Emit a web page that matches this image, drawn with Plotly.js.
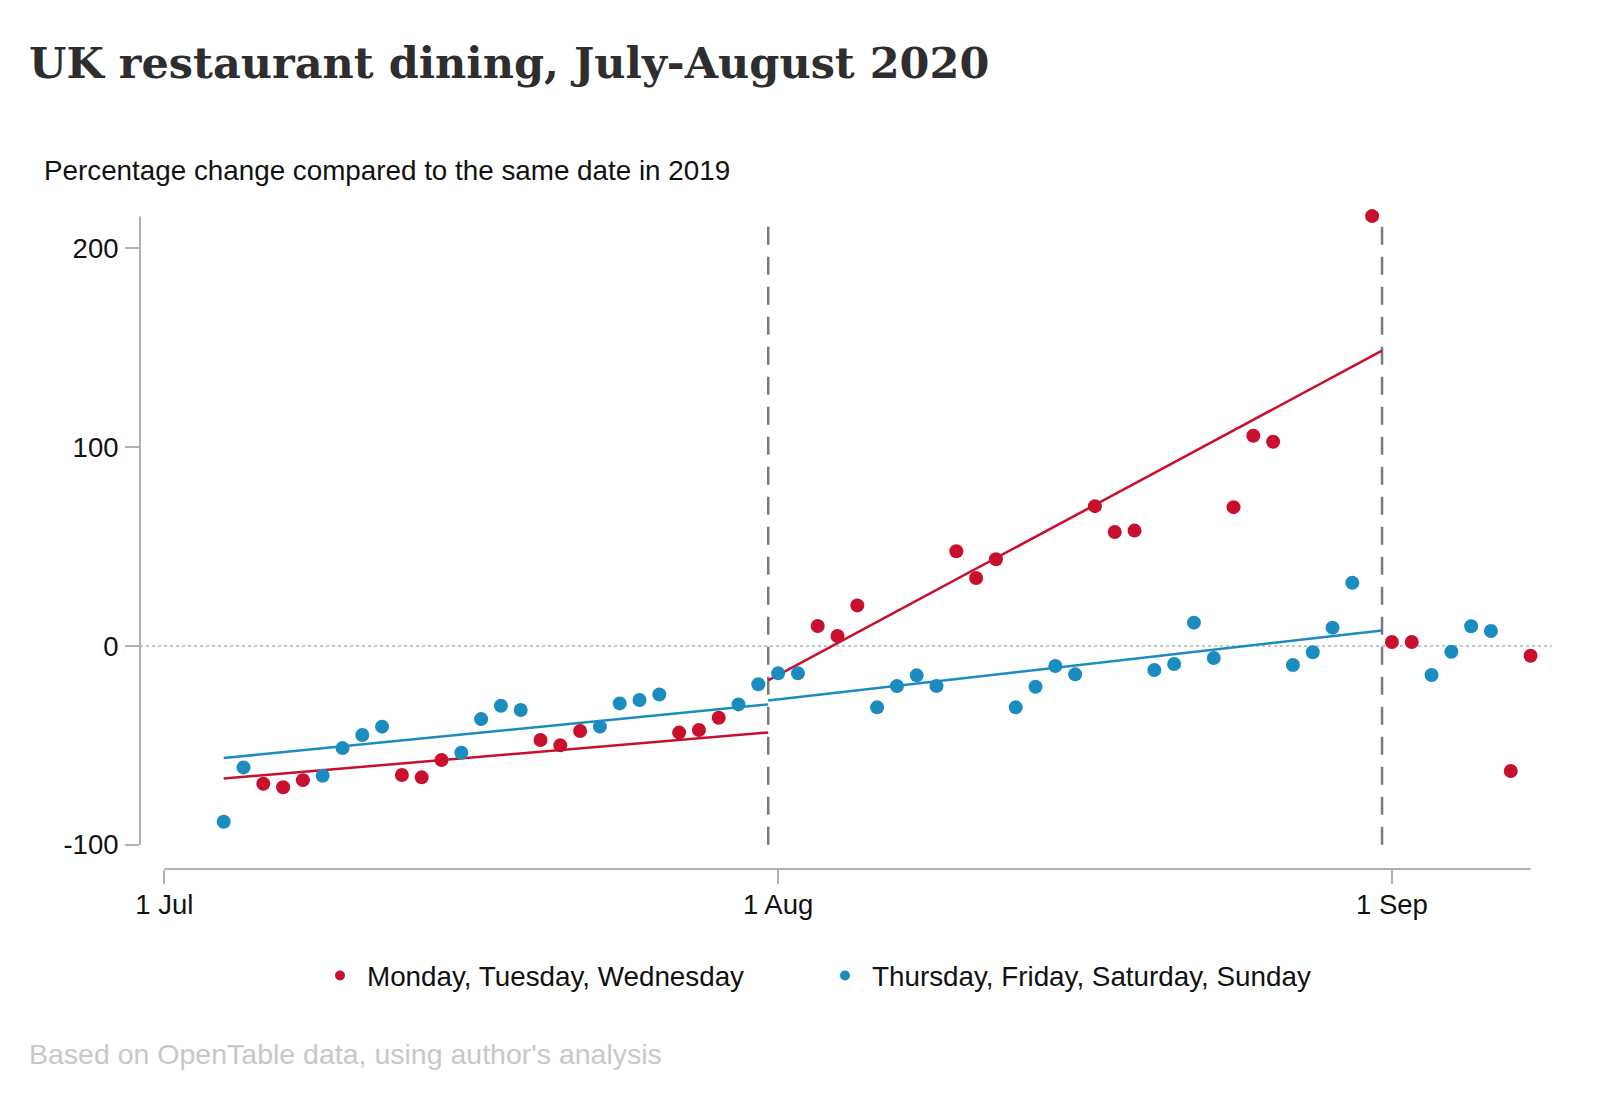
<!DOCTYPE html>
<html>
<head>
<meta charset="utf-8">
<script src="https://cdn.plot.ly/plotly-3.0.1.min.js"></script>
<style>
html,body{margin:0;padding:0;background:#fff;}
#chart{width:1600px;height:1109px;}
</style>
</head>
<body>
<div id="chart"></div>
<script>
// ---- Data ----
const redDates = ['2020-07-06','2020-07-07','2020-07-08','2020-07-13','2020-07-14','2020-07-15','2020-07-20','2020-07-21','2020-07-22','2020-07-27','2020-07-28','2020-07-29','2020-08-03','2020-08-04','2020-08-05','2020-08-10','2020-08-11','2020-08-12','2020-08-17','2020-08-18','2020-08-19','2020-08-24','2020-08-25','2020-08-26','2020-08-31','2020-09-01','2020-09-02','2020-09-07','2020-09-08'];
const redValues = [-69.3,-71.1,-67.5,-64.9,-66.1,-57.4,-47.3,-50.0,-42.8,-43.6,-42.3,-36.1,10.0,5.0,20.4,47.6,34.2,43.6,70.3,57.3,58.0,69.8,105.7,102.7,216.2,2.0,2.0,-62.9,-4.9];

const blueDates = ['2020-07-04','2020-07-05','2020-07-09','2020-07-10','2020-07-11','2020-07-12','2020-07-16','2020-07-17','2020-07-18','2020-07-19','2020-07-23','2020-07-24','2020-07-25','2020-07-26','2020-07-30','2020-07-31','2020-08-01','2020-08-02','2020-08-06','2020-08-07','2020-08-08','2020-08-09','2020-08-13','2020-08-14','2020-08-15','2020-08-16','2020-08-20','2020-08-21','2020-08-22','2020-08-23','2020-08-27','2020-08-28','2020-08-29','2020-08-30','2020-09-03','2020-09-04','2020-09-05','2020-09-06'];
const blueValues = [-88.4,-61.1,-65.3,-51.4,-44.8,-40.6,-53.7,-36.8,-30.1,-32.2,-40.6,-28.9,-27.2,-24.4,-29.4,-19.3,-13.8,-13.8,-30.9,-20.2,-14.8,-20.2,-30.9,-20.5,-10.1,-14.3,-12.1,-9.1,11.7,-6.1,-9.6,-3.2,9.2,31.8,-14.6,-2.9,9.9,7.5];

// fitted trend segments (end values)
const julyTrendDates = ['2020-07-04','2020-07-31 12:00'];
const redJulyTrend = [-66.7,-43.5];
const blueJulyTrend = [-56.4,-29.4];
const augTrendDates = ['2020-07-31 12:00','2020-08-31 12:00'];
const redAugTrend = [-17.3,148.5];
const blueAugTrend = [-27.4,7.8];

const periodBreaks = ['2020-07-31 12:00','2020-08-31 12:00'];
const xTickVals = ['2020-07-01','2020-08-01','2020-09-01'];
const xTickText = ['1 Jul','1 Aug','1 Sep'];
const yTickVals = [-100,0,100,200];
const yTickText = ['-100','0','100','200'];
const seriesNames = ['Monday, Tuesday, Wednesday','Thursday, Friday, Saturday, Sunday'];

const RED = '#c8102e';
const BLUE = '#1a8cc0';
const AXIS = '#b0b0b0';
const SANS = 'Liberation Sans, Arial, Helvetica, sans-serif';

const traces = [
  {x: julyTrendDates, y: redJulyTrend, mode:'lines', line:{color:RED,width:2.5}, showlegend:false, hoverinfo:'skip'},
  {x: augTrendDates, y: redAugTrend, mode:'lines', line:{color:RED,width:2.5}, showlegend:false, hoverinfo:'skip'},
  {x: julyTrendDates, y: blueJulyTrend, mode:'lines', line:{color:BLUE,width:2.5}, showlegend:false, hoverinfo:'skip'},
  {x: augTrendDates, y: blueAugTrend, mode:'lines', line:{color:BLUE,width:2.5}, showlegend:false, hoverinfo:'skip'},
  {x: redDates, y: redValues, mode:'markers', name:seriesNames[0], marker:{color:RED,size:14}, showlegend:false},
  {x: blueDates, y: blueValues, mode:'markers', name:seriesNames[1], marker:{color:BLUE,size:14}, showlegend:false},
  // legend entries
  {x:[null], y:[null], mode:'markers', name:seriesNames[0], marker:{color:RED,size:10}, legend:'legend'},
  {x:[null], y:[null], mode:'markers', name:seriesNames[1], marker:{color:BLUE,size:10}, legend:'legend2'}
];

const shapes = [
  // zero reference line
  {type:'line', xref:'paper', x0:0, x1:1, yref:'y', y0:0, y1:0, line:{color:'#c4c4c4', width:2, dash:'dot'}, layer:'below'},
  // period break lines
  ...periodBreaks.map(d => ({type:'line', xref:'x', x0:d, x1:d, yref:'y', y0:-100, y1:214, line:{color:'#7a7a7a', width:2.5, dash:'18px,12px'}, layer:'below'})),
  // axis lines spanning the data range
  {type:'line', xref:'paper', x0:0, x1:0, yref:'y', y0:-100, y1:216, line:{color:AXIS, width:2}},
  {type:'line', xref:'x', x0:'2020-07-01', x1:'2020-09-08', yref:'paper', y0:0, y1:0, line:{color:AXIS, width:2}}
];

const layout = {
  width:1600, height:1109,
  paper_bgcolor:'#fff', plot_bgcolor:'#fff',
  margin:{l:140, r:48, t:200, b:240},
  title:{text:'UK restaurant dining, July-August 2020', xref:'container', yref:'container', x:29/1600, xanchor:'left', y:1-63/1109, yanchor:'middle',
    font:{family:'DejaVu Serif, Liberation Serif, serif', size:43, color:'#2e2e2e', weight:700}},
  xaxis:{type:'date', range:['2020-06-29 18:33','2020-09-09 02:00'], showgrid:false, zeroline:false, showline:false,
    tickvals:xTickVals, ticktext:xTickText, ticks:'outside', ticklen:14, tickwidth:2, tickcolor:AXIS,
    tickfont:{family:SANS, size:27.5, color:'#111'}, ticklabelstandoff:-3, fixedrange:true},
  yaxis:{range:[-112.2,224.3], showgrid:false, zeroline:false, showline:false,
    tickvals:yTickVals, ticktext:yTickText, ticks:'outside', ticklen:14, tickwidth:2, tickcolor:AXIS,
    tickfont:{family:SANS, size:27.5, color:'#111'}, ticklabelstandoff:1, fixedrange:true},
  shapes:shapes,
  legend:{orientation:'h', xref:'container', yref:'container', x:313/1600, xanchor:'left', y:1-976/1109, yanchor:'middle',
    font:{family:SANS, size:27.8, color:'#111'}, itemwidth:44, bgcolor:'rgba(0,0,0,0)'},
  legend2:{orientation:'h', xref:'container', yref:'container', x:818/1600, xanchor:'left', y:1-976/1109, yanchor:'middle',
    font:{family:SANS, size:27.8, color:'#111'}, itemwidth:44, bgcolor:'rgba(0,0,0,0)'},
  annotations:[
    {text:'Percentage change compared to the same date in 2019', xref:'paper', yref:'paper', x:(42-140)/1412, y:(869-171)/669,
      xanchor:'left', yanchor:'middle', showarrow:false, font:{family:SANS, size:27.8, color:'#111'}},
    {text:"Based on OpenTable data, using author's analysis", xref:'paper', yref:'paper', x:(27-140)/1412, y:(869-1054)/669,
      xanchor:'left', yanchor:'middle', showarrow:false, font:{family:SANS, size:28.5, color:'#c8c8c8'}}
  ],
  showlegend:true
};

Plotly.newPlot('chart', traces, layout, {displayModeBar:false, staticPlot:true});
</script>
</body>
</html>
